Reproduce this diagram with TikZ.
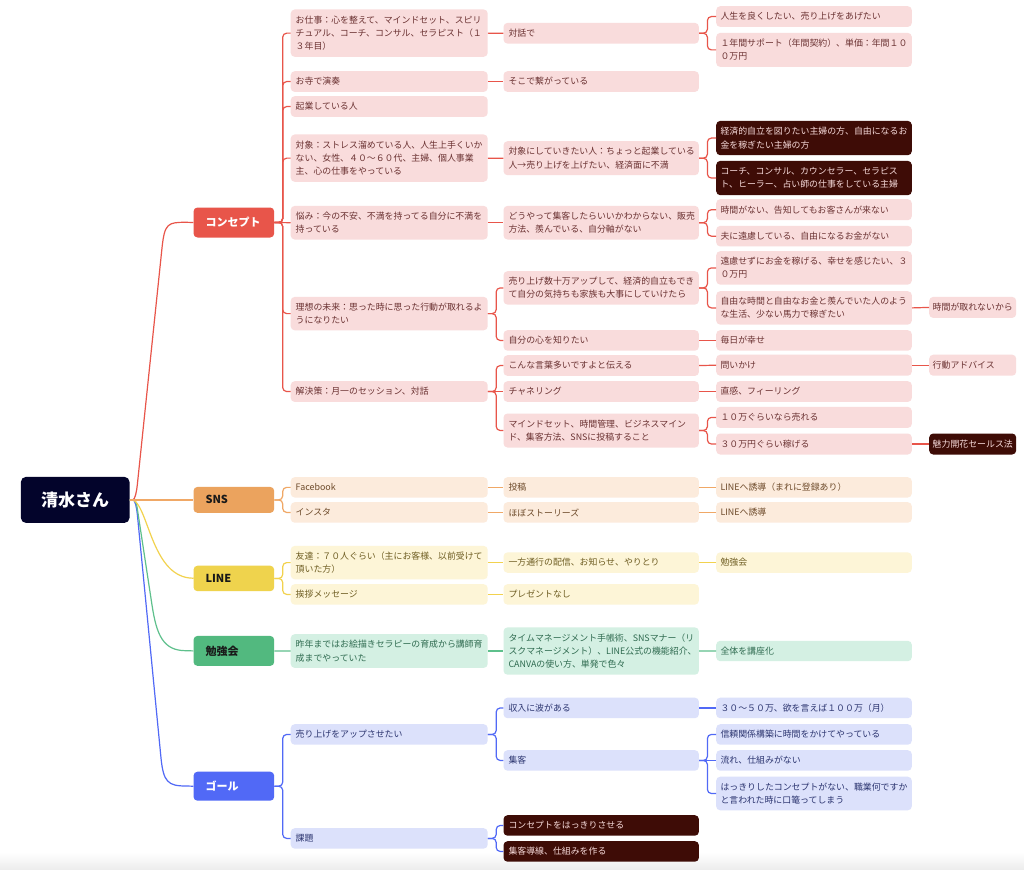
\documentclass[tikz,border=0pt]{standalone}
\usepackage{fontspec}
\newfontfamily\jp{Noto Sans CJK JP}
\definecolor{rootc}{HTML}{03042B}
\definecolor{conc}{HTML}{E8554A}
\definecolor{cfill}{HTML}{F9DCDC}
\definecolor{ctext}{HTML}{6B3232}
\definecolor{dfill}{HTML}{3E0C06}
\definecolor{dtext}{HTML}{F6DADA}
\definecolor{snsc}{HTML}{EBA35E}
\definecolor{sline}{HTML}{F0A866}
\definecolor{sfill}{HTML}{FCEBDC}
\definecolor{stext}{HTML}{6E4B2B}
\definecolor{linec}{HTML}{EFD34D}
\definecolor{lline}{HTML}{F2D24E}
\definecolor{lfill}{HTML}{FDF5D7}
\definecolor{ltext}{HTML}{6E5D22}
\definecolor{stdc}{HTML}{52B97F}
\definecolor{gline}{HTML}{5EC08C}
\definecolor{gfill}{HTML}{D4F0E3}
\definecolor{gtext}{HTML}{2F6B50}
\definecolor{goalc}{HTML}{5169F6}
\definecolor{bfill}{HTML}{DCE1FB}
\definecolor{btext}{HTML}{2C3570}
\tikzset{
 bx/.style={anchor=north west, rounded corners=4pt, inner ysep=0pt, align=left, font=\jp\fontsize{8.9}{13.3}\selectfont},
 lv2/.style={bx, text width=187pt, inner xsep=5pt},
 lv3/.style={bx, text width=185.4pt, inner xsep=5pt},
 lv4/.style={bx, text width=187pt, inner xsep=4.3pt},
 lv5/.style={bx, text width=80pt, inner xsep=3.5pt},
 cb/.style={fill=cfill, text=ctext},
 db/.style={fill=dfill, text=dtext},
 sb/.style={fill=sfill, text=stext},
 lb/.style={fill=lfill, text=ltext},
 gb/.style={fill=gfill, text=gtext},
 bb/.style={fill=bfill, text=btext},
 topic/.style={anchor=north west, rounded corners=4pt, inner ysep=0pt, inner xsep=12pt, text width=56.7pt, align=left, font=\jp\bfseries\fontsize{11}{13}\selectfont},
 cw/.style={draw=conc, line width=1.2pt},
 sw/.style={draw=sline, line width=1.2pt},
 lw/.style={draw=lline, line width=1.2pt},
 gw/.style={draw=gline, line width=1.2pt},
 bw/.style={draw=goalc, line width=1.2pt},
}
\newcommand\nb[5]{\node[#1,minimum height=#4pt] (#2) at (#3) {#5};}
\newcommand\myjoin[3]{\draw[#1,rounded corners=4pt] (#2.east) -- ++(8.3,0) |- (#3.west);}
\newcommand\mystraight[3]{\draw[#1] (#2.east) -- (#3.west);}
\begin{document}
\begin{tikzpicture}[x=1pt,y=-1pt]
\useasboundingbox (0,0) rectangle (1024,869);
\fill[white] (0,0) rectangle (1024,869);
\shade[top color=white, bottom color=black!7] (0,852) rectangle (1024,869);

% root
\node[anchor=north west, rounded corners=5pt, fill=rootc, text=white, minimum width=108.6pt, minimum height=46pt, inner sep=0pt, font=\jp\bfseries\fontsize{17}{20}\selectfont] (root) at (20.7,476.7) {清水さん};

% level 1
\nb{topic,fill=conc,text=white}{T1}{193.3,207.3}{30}{コンセプト}
\nb{topic,fill=snsc,text=black!90}{T2}{193.3,486.7}{26}{SNS}
\nb{topic,fill=linec,text=black!90}{T3}{193.3,565.5}{25.5}{LINE}
\nb{topic,fill=stdc,text=black!90}{T4}{193.3,635.7}{30}{勉強会}
\nb{topic,fill=goalc,text=white}{T5}{193.3,771.5}{29}{ゴール}

% concept level 2
\nb{lv2,cb}{c1}{290.5,9.3}{47.3}{お仕事：心を整えて、マインドセット、スピリ\\チュアル、コーチ、コンサル、セラピスト（１\\３年目）}
\nb{lv2,cb}{c2}{290.5,71}{20.7}{お寺で演奏}
\nb{lv2,cb}{c3}{290.5,96}{20.7}{起業している人}
\nb{lv2,cb}{c4}{290.5,134.3}{47.3}{対象：ストレス溜めている人、人生上手くいか\\ない、女性、４０〜６０代、主婦、個人事業\\主、心の仕事をやっている}
\nb{lv2,cb}{c5}{290.5,205.7}{33.6}{悩み：今の不安、不満を持ってる自分に不満を\\持っている}
\nb{lv2,cb}{c6}{290.5,296.7}{33.4}{理想の未来：思った時に思った行動が取れるよ\\うになりたい}
\nb{lv2,cb}{c7}{290.5,381}{20.7}{解決策：月一のセッション、対話}

% concept level 3
\nb{lv3,cb}{c1a}{503.3,22.7}{20.7}{対話で}
\nb{lv3,cb}{c2a}{503.3,71}{20.7}{そこで繋がっている}
\nb{lv3,cb}{c4a}{503.3,141}{34}{対象にしていきたい人：ちょっと起業している\\人→売り上げを上げたい、経済面に不満}
\nb{lv3,cb}{c5a}{503.3,205.7}{33.6}{どうやって集客したらいいかわからない、販売\\方法、羨んでいる、自分軸がない}
\nb{lv3,cb}{c6a}{503.3,271}{33.4}{売り上げ数十万アップして、経済的自立もでき\\て自分の気持ちも家族も大事にしていけたら}
\nb{lv3,cb}{c6b}{503.3,330}{20.5}{自分の心を知りたい}
\nb{lv3,cb}{c7a}{503.3,355}{20.7}{こんな言葉多いですよと伝える}
\nb{lv3,cb}{c7b}{503.3,381}{20.7}{チャネリング}
\nb{lv3,cb}{c7c}{503.3,413.3}{34}{マインドセット、時間管理、ビジネスマイン\\ド、集客方法、SNSに投稿すること}

% concept level 4
\nb{lv4,cb}{c1a1}{716,6}{20.7}{人生を良くしたい、売り上げをあげたい}
\nb{lv4,cb}{c1a2}{716,32.7}{34}{１年間サポート（年間契約）、単価：年間１０\\０万円}
\nb{lv4,db}{c4a1}{716,120.7}{34.3}{経済的自立を図りたい主婦の方、自由になるお\\金を稼ぎたい主婦の方}
\nb{lv4,db}{c4a2}{716,160.7}{34.3}{コーチ、コンサル、カウンセラー、セラピス\\ト、ヒーラー、占い師の仕事をしている主婦}
\nb{lv4,cb}{c5a1}{716,199}{21}{時間がない、告知してもお客さんが来ない}
\nb{lv4,cb}{c5a2}{716,225.7}{20.5}{夫に遠慮している、自由になるお金がない}
\nb{lv4,cb}{c6a1}{716,251}{33.4}{遠慮せずにお金を稼げる、幸せを感じたい、３\\０万円}
\nb{lv4,cb}{c6a2}{716,291}{33.4}{自由な時間と自由なお金と羨んでいた人のよう\\な生活、少ない馬力で稼ぎたい}
\nb{lv4,cb}{c6b1}{716,330}{20.5}{毎日が幸せ}
\nb{lv4,cb}{c7a1}{716,354.5}{21}{問いかけ}
\nb{lv4,cb}{c7b1}{716,381}{20.7}{直感、フィーリング}
\nb{lv4,cb}{c7c1}{716,406.7}{21}{１０万ぐらいなら売れる}
\nb{lv4,cb}{c7c2}{716,433.3}{21}{３０万円ぐらい稼げる}

% concept level 5
\nb{lv5,cb}{c6a2x}{929,296.7}{21}{時間が取れないから}
\nb{lv5,cb}{c7a1x}{929,354.5}{21}{行動アドバイス}
\nb{lv5,db}{c7c2x}{929,433.3}{21}{魅力開花セールス法}

% SNS
\nb{lv2,sb}{s1}{290.5,477}{20.3}{Facebook}
\nb{lv2,sb}{s2}{290.5,502}{20.5}{インスタ}
\nb{lv3,sb}{s1a}{503.3,477}{20.3}{投稿}
\nb{lv3,sb}{s2a}{503.3,502}{20.5}{ほぼストーリーズ}
\nb{lv4,sb}{s1a1}{716,477}{20.3}{LINEへ誘導（まれに登録あり）}
\nb{lv4,sb}{s2a1}{716,502}{20.5}{LINEへ誘導}

% LINE
\nb{lv2,lb}{n1}{290.5,545.7}{33.4}{友達：７０人ぐらい（主にお客様、以前受けて\\頂いた方）}
\nb{lv2,lb}{n2}{290.5,584}{20.4}{挨拶メッセージ}
\nb{lv3,lb}{n1a}{503.3,552.2}{20.4}{一方通行の配信、お知らせ、やりとり}
\nb{lv3,lb}{n2a}{503.3,584}{20.4}{プレゼントなし}
\nb{lv4,lb}{n1a1}{716,552.2}{20.4}{勉強会}

% study
\nb{lv2,gb}{g1}{290.5,634}{33.7}{昨年まではお絵描きセラピーの育成から講師育\\成までやっていた}
\nb{lv3,gb}{g1a}{503.3,627.2}{47.3}{タイムマネージメント手帳術、SNSマナー（リ\\スクマネージメント）、LINE公式の機能紹介、\\CANVAの使い方、単発で色々}
\nb{lv4,gb}{g1a1}{716,640.6}{20.4}{全体を講座化}

% goal
\nb{lv2,bb}{b1}{290.5,724}{20.5}{売り上げをアップさせたい}
\nb{lv2,bb}{b2}{290.5,828}{20.4}{課題}
\nb{lv3,bb}{b1a}{503.3,697.5}{20.5}{収入に波がある}
\nb{lv3,bb}{b1b}{503.3,750}{20.5}{集客}
\nb{lv3,db}{b2a}{503.3,815}{20.5}{コンセプトをはっきりさせる}
\nb{lv3,db}{b2b}{503.3,841}{20.5}{集客導線、仕組みを作る}
\nb{lv4,bb}{b1a1}{716,697.5}{20.5}{３０〜５０万、欲を言えば１００万（月）}
\nb{lv4,bb}{b1b1}{716,724}{20.5}{信頼関係構築に時間をかけてやっている}
\nb{lv4,bb}{b1b2}{716,750}{20.5}{流れ、仕組みがない}
\nb{lv4,bb}{b1b3}{716,776.5}{33.6}{はっきりしたコンセプトがない、職業何ですか\\と言われた時に口篭ってしまう}

% root connectors
\draw[cw] (root.east) -- (133,499.7) .. controls (135,499.7) and (136.7,491) .. (137.3,485) -- (162,248) .. controls (164.6,223) and (168,222.3) .. (186,222.3) -- (T1.west);
\draw[bw] (root.east) -- (133,499.7) .. controls (135,499.7) and (136.7,508) .. (137.3,514) -- (161,758) .. controls (163.4,782) and (168,786) .. (186,786) -- (T5.west);
\draw[gw] (root.east) -- (133,499.7) .. controls (135.5,499.7) and (136.4,503) .. (137.2,508) -- (152,605) .. controls (156.6,635) and (163,650.7) .. (186,650.7) -- (T4.west);
\draw[lw] (root.east) -- (133,499.7) .. controls (149,508) and (152,578.2) .. (193.3,578.2) -- (T3.west);
\draw[sw] (root.east) -- (T2.west);

% concept connectors
\foreach \k in {c1,c2,c3,c4,c6,c7}{\myjoin{cw}{T1}{\k}}
\mystraight{cw}{T1}{c5}
\mystraight{cw}{c1}{c1a}
\mystraight{cw}{c2}{c2a}
\mystraight{cw}{c4}{c4a}
\mystraight{cw}{c5}{c5a}
\myjoin{cw}{c6}{c6a}
\myjoin{cw}{c6}{c6b}
\myjoin{cw}{c7}{c7a}
\mystraight{cw}{c7}{c7b}
\myjoin{cw}{c7}{c7c}
\myjoin{cw}{c1a}{c1a1}
\myjoin{cw}{c1a}{c1a2}
\myjoin{cw}{c4a}{c4a1}
\myjoin{cw}{c4a}{c4a2}
\myjoin{cw}{c5a}{c5a1}
\myjoin{cw}{c5a}{c5a2}
\myjoin{cw}{c6a}{c6a1}
\myjoin{cw}{c6a}{c6a2}
\mystraight{cw}{c6b}{c6b1}
\mystraight{cw}{c7a}{c7a1}
\mystraight{cw}{c7b}{c7b1}
\myjoin{cw}{c7c}{c7c1}
\myjoin{cw}{c7c}{c7c2}
\mystraight{cw}{c6a2}{c6a2x}
\mystraight{cw}{c7a1}{c7a1x}
\mystraight{cw}{c7c2}{c7c2x}

% SNS connectors
\myjoin{sw}{T2}{s1}
\myjoin{sw}{T2}{s2}
\mystraight{sw}{s1}{s1a}
\mystraight{sw}{s2}{s2a}
\mystraight{sw}{s1a}{s1a1}
\mystraight{sw}{s2a}{s2a1}

% LINE connectors
\myjoin{lw}{T3}{n1}
\myjoin{lw}{T3}{n2}
\mystraight{lw}{n1}{n1a}
\mystraight{lw}{n2}{n2a}
\mystraight{lw}{n1a}{n1a1}

% study connectors
\mystraight{gw}{T4}{g1}
\mystraight{gw}{g1}{g1a}
\mystraight{gw}{g1a}{g1a1}

% goal connectors
\myjoin{bw}{T5}{b1}
\myjoin{bw}{T5}{b2}
\myjoin{bw}{b1}{b1a}
\myjoin{bw}{b1}{b1b}
\myjoin{bw}{b2}{b2a}
\myjoin{bw}{b2}{b2b}
\mystraight{bw}{b1a}{b1a1}
\myjoin{bw}{b1b}{b1b1}
\mystraight{bw}{b1b}{b1b2}
\myjoin{bw}{b1b}{b1b3}
\end{tikzpicture}
\end{document}
